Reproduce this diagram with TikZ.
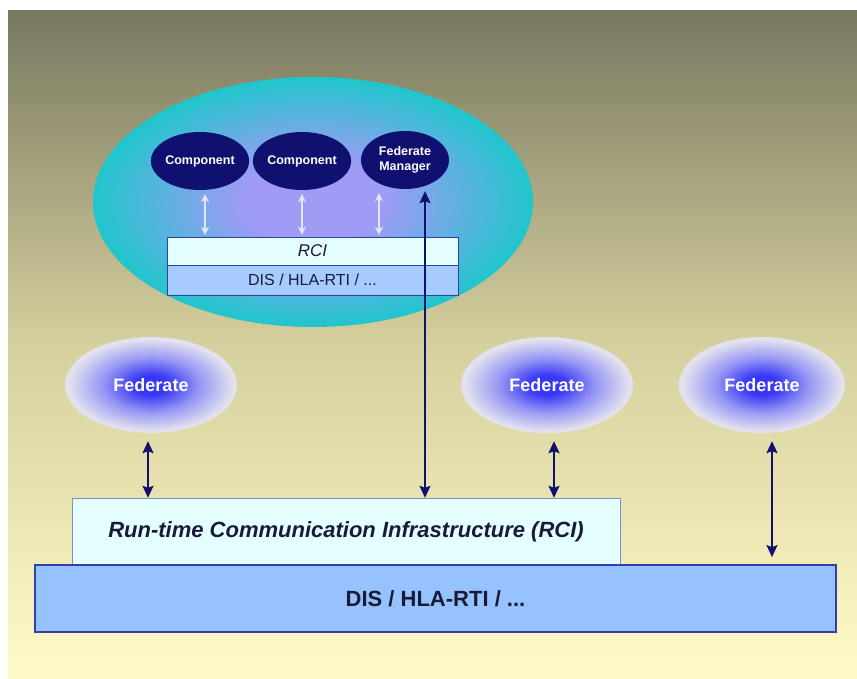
\documentclass[tikz,border=0pt]{standalone}
\usepackage{fontspec}
\setmainfont{Liberation Sans}
\usetikzlibrary{shapes.geometric,arrows.meta}

\definecolor{bgtop}{RGB}{120,120,96}
\definecolor{bgmid}{RGB}{214,208,158}
\definecolor{bgbot}{RGB}{255,250,200}
\definecolor{navy}{RGB}{16,16,112}
\definecolor{lavender}{RGB}{160,155,245}
\definecolor{cyanish}{RGB}{32,198,204}
\definecolor{disblue}{RGB}{150,195,255}
\definecolor{rcicyan}{RGB}{228,255,255}
\definecolor{edgeblue}{RGB}{48,64,168}
\definecolor{inkdark}{RGB}{26,26,56}
\definecolor{fedcore}{RGB}{55,55,245}
\definecolor{fedmid}{RGB}{150,150,245}
\definecolor{fedrim}{RGB}{226,226,238}

\pgfdeclareradialshading{fedshade}{\pgfpoint{0bp}{0bp}}{%
  color(0bp)=(fedcore);
  color(5bp)=(fedcore);
  color(14bp)=(fedmid);
  color(24bp)=(fedrim);
  color(50bp)=(fedrim)}
\pgfdeclareradialshading{innershade}{\pgfpoint{0bp}{0bp}}{%
  color(0bp)=(lavender);
  color(8bp)=(lavender);
  color(25bp)=(cyanish);
  color(50bp)=(cyanish)}

\tikzset{
  comp/.style={ellipse,fill=navy,text=white,minimum width=88pt,minimum height=58pt,
    inner sep=0pt,align=center,font=\fontsize{12.5}{15}\selectfont\bfseries},
  fed/.style={ellipse,shading=fedshade,text=white,minimum width=172pt,minimum height=96pt,
    font=\fontsize{18}{20}\selectfont\bfseries},
  layer/.style={draw=edgeblue,inner sep=0pt,text=inkdark},
  dblarrow/.style={{Stealth[length=12pt,width=11pt,inset=2pt]}-{Stealth[length=12pt,width=11pt,inset=2pt]},
    line width=1.8pt,draw=navy},
  inarrow/.style={{Stealth[length=8pt,width=8pt]}-{Stealth[length=8pt,width=8pt]},
    line width=1.6pt,draw=white!90!blue}
}

\begin{document}
\begin{tikzpicture}[x=1pt,y=-1pt]
  \useasboundingbox (0,0) rectangle (857,679);
  % background
  \fill[white] (0,0) rectangle (857,679);
  \shade[top color=bgtop,bottom color=bgbot,middle color=bgmid] (8,11) rectangle (857,679);

  % federation inside one federate
  \node[ellipse,shading=innershade,minimum width=440pt,minimum height=250pt]
    (inner) at (313,202) {};
  \node[comp] (comp1) at (200,161) {Component};
  \node[comp] (comp2) at (302,161) {Component};
  \node[comp] (fm) at (405,160) {Federate\\Manager};
  \node[layer,fill=rcicyan,minimum width=291pt,minimum height=28pt,
    font=\fontsize{17}{19}\selectfont\itshape] (rcib) at (312.5,251) {RCI};
  \node[layer,fill=disblue!85!white,minimum width=291pt,minimum height=30pt,
    font=\fontsize{16}{18}\selectfont] (disb) at (312.5,280) {DIS / HLA-RTI / ...};
  \draw[inarrow,shorten <=4pt,shorten >=2pt] (comp1.south) ++(5,0) coordinate (c1) -- (c1 |- rcib.north);
  \draw[inarrow,shorten <=4pt,shorten >=2pt] (comp2.south) -- (comp2.south |- rcib.north);
  \draw[inarrow,shorten <=4pt,shorten >=2pt] ([xshift=-26pt]fm.south) -- ([xshift=-26pt]fm.south |- rcib.north);

  % federates
  \node[fed] (fed1) at (151,385) {Federate};
  \node[fed] (fed2) at (547,385) {Federate};
  \node[fed,minimum width=166pt] (fed3) at (762,385) {Federate};

  % layers
  \node[layer,draw=edgeblue!60,fill=rcicyan,minimum width=548pt,minimum height=67pt,
    font=\fontsize{22}{24}\selectfont\bfseries\itshape] (rci) at (346,531.5) {Run-time Communication Infrastructure (RCI)};
  \node[layer,line width=1.8pt,fill=disblue,minimum width=801pt,minimum height=67pt,
    font=\fontsize{22}{24}\selectfont\bfseries] (dis) at (435.5,598.5) {DIS / HLA-RTI / ...};

  % connectors
  \draw[dblarrow,shorten <=8pt] (fed1.south) ++(-3,0) coordinate (f1) -- (f1 |- rci.north);
  \draw[dblarrow,shorten <=8pt] (fed2.south) ++(7,0) coordinate (f2) -- (f2 |- rci.north);
  \draw[dblarrow,shorten <=8pt,shorten >=7pt] (fed3.south) ++(10,0) coordinate (f3) -- (f3 |- dis.north);
  \draw[dblarrow,shorten <=2pt] ([xshift=20pt]fm.south) -- ([xshift=20pt]fm.south |- rci.north);
\end{tikzpicture}
\end{document}
